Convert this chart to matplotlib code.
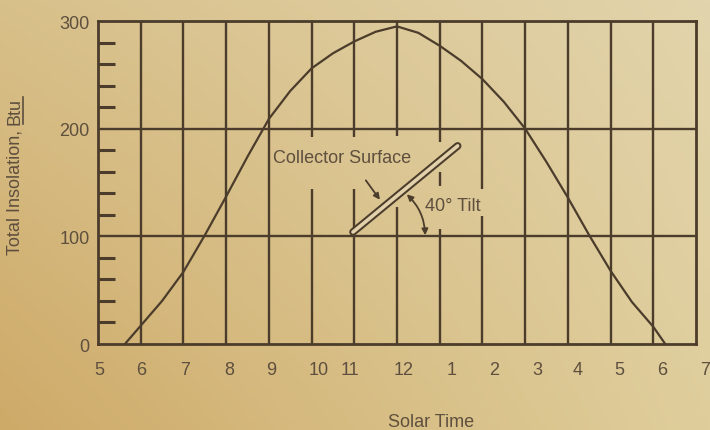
import numpy as np
import matplotlib.pyplot as plt
from matplotlib.lines import Line2D
from matplotlib.transforms import ScaledTranslation

plt.rcParams['font.family'] = ['Liberation Sans', 'DejaVu Sans']

# solar time in hours (5 = 5 AM ... 19 = 7 PM) and total insolation, Btu
hours = [5.63, 6, 6.5, 7, 7.5, 8, 8.5, 9, 9.5, 10, 10.5, 11, 11.5, 12,
         12.5, 13, 13.5, 14, 14.5, 15, 15.5, 16, 16.5, 17, 17.5, 18, 18.28]
insolation = [0, 17, 40, 67, 101, 137, 174, 209, 235, 256, 270, 281, 290, 295,
              289, 277, 263, 246, 225, 200, 169, 136, 101, 68, 39, 16, 0]

tick_hours = list(range(5, 20))
tick_labels = ['5', '6', '7', '8', '9', '10', '11', '12', '1', '2', '3', '4', '5', '6', '7']
y_major = [0, 100, 200, 300]
y_minor = [20, 40, 60, 80, 120, 140, 160, 180, 220, 240, 260, 280]

# where the hour grid lines are left out around the sketch
gaps = {10: [(144, 192)], 11: [(144, 192)], 12: [(127, 193)],
        13: [(107, 147), (160, 188)], 14: [(119, 144)]}

# the printed hour numbers sit a little off their grid lines (pixels)
label_shift = [1, 0, 2, 3, 2, 7, -4, 7, 12, 12, 12, 10, 9, 9, 9]

dark = '#4b3c2b'
txt = '#5e4f3e'
paper = '#e2d1aa'

W, H = 710, 431
fig = plt.figure(figsize=(W / 100, H / 100), dpi=100)

# paper background, darker toward the lower left
bg = fig.add_axes([0, 0, 1, 1], zorder=-5)
gx, gy = np.meshgrid(np.linspace(0, 1, 200), np.linspace(0, 1, 120))
tl = np.array([216, 192, 138]) / 255
bl = np.array([206, 170, 104]) / 255
tr = np.array([226, 212, 172]) / 255
br = np.array([223, 206, 156]) / 255
img = ((1 - gx) * (1 - gy))[..., None] * tl + (gx * (1 - gy))[..., None] * tr \
    + ((1 - gx) * gy)[..., None] * bl + (gx * gy)[..., None] * br
bg.imshow(img, aspect='auto', extent=[0, 1, 0, 1])
bg.axis('off')

ax = fig.add_axes([98 / W, 1 - 345 / H, (696 - 98) / W, (345 - 22) / H])
ax.set_facecolor('none')
ax.set_xlim(5, 19)
ax.set_ylim(0, 300)

for s in ax.spines.values():
    s.set_color(dark)
    s.set_linewidth(2)

# grid
for yv in y_major[1:-1]:
    ax.axhline(yv, color=dark, lw=1.7)
for h in tick_hours[1:-1]:
    top = 300
    for lo, hi in sorted(gaps.get(h, []), reverse=True):
        ax.vlines(h, hi, top, color=dark, lw=1.7)
        top = lo
    ax.vlines(h, 0, top, color=dark, lw=1.7)

ax.set_xticks(tick_hours)
ax.set_xticklabels(tick_labels)
ax.set_yticks(y_major)
ax.set_yticks(y_minor, minor=True)
ax.tick_params(axis='x', length=0, pad=12, labelsize=13, labelcolor=txt)
ax.tick_params(axis='y', which='major', length=0, pad=6, labelsize=13, labelcolor=txt)
ax.tick_params(axis='y', which='minor', direction='in', length=12, width=2.2, color=dark)
for lab, dx in zip(ax.get_xticklabels(), label_shift):
    lab.set_transform(lab.get_transform() + ScaledTranslation(dx / 100, 0, fig.dpi_scale_trans))

ax.plot(hours, insolation, color=dark, lw=1.6)

# collector sketch
rod_x = [10.97, 13.42]
rod_y = [104, 184]
ax.plot(rod_x, rod_y, color=dark, lw=5.5, solid_capstyle='round')
ax.plot(rod_x, rod_y, color=paper, lw=2.6, solid_capstyle='round')
ax.text(9.1, 173, 'Collector Surface', fontsize=13, color=txt, va='center', ha='left')
ax.annotate('', xy=(11.6, 134), xytext=(11.27, 152),
            arrowprops=dict(arrowstyle='-|>', color=dark, lw=1.3, mutation_scale=9,
                            shrinkA=0, shrinkB=0))
ax.annotate('', xy=(12.23, 139), xytext=(12.66, 101),
            arrowprops=dict(arrowstyle='<|-|>', color=dark, lw=1.3, mutation_scale=9,
                            connectionstyle='arc3,rad=0.2', shrinkA=0, shrinkB=0))
ax.text(12.65, 129, '40° Tilt', fontsize=13, color=txt, va='center', ha='left')

# axis titles
fig.text(431 / W, 1 - 423 / H, 'Solar Time', fontsize=13, color=txt, ha='center', va='center')
split = 1 - 125 / H
fig.text(15 / W, split, 'Total Insolation, ', fontsize=13, color=txt,
         rotation=90, ha='center', va='top')
btu = fig.text(15 / W, split, 'Btu', fontsize=13, color=txt,
               rotation=90, ha='center', va='bottom')
fig.canvas.draw()
bb = btu.get_window_extent()
ux = (bb.x1 - 1) / W
fig.add_artist(Line2D([ux, ux], [bb.y0 / H, bb.y1 / H], color=txt, lw=1.2))

fig.savefig('out.png', dpi=100)
